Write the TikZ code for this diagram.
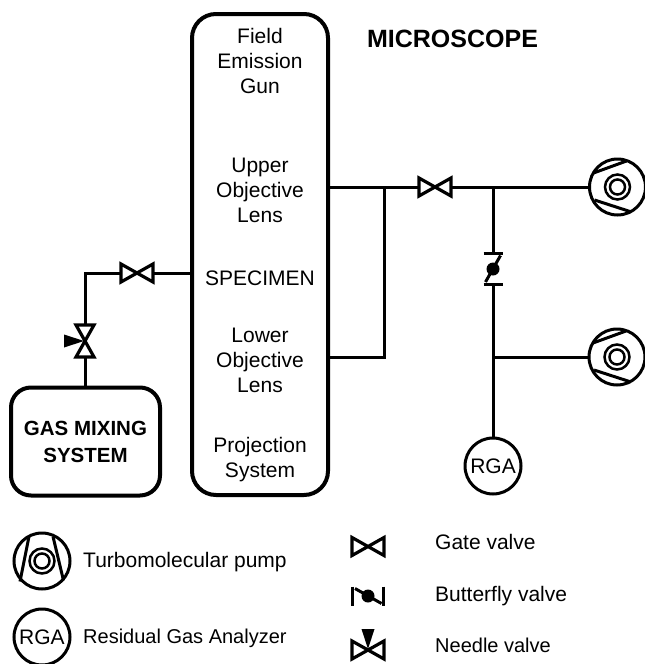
\documentclass[tikz,border=0pt]{standalone}
\usepackage{fontspec}
\setmainfont{Liberation Sans}
\usetikzlibrary{positioning}

\tikzset{
  vessel/.style={draw,line width=4,rounded corners=24,inner sep=0},
  pipe/.style={line width=3},
  label/.style={align=center,font=\fontsize{21}{25}\selectfont},
  legend/.style={anchor=west,inner sep=0,font=\fontsize{21}{25}\selectfont},
  roundbody/.style={draw,circle,line width=3,minimum size=56,inner sep=0,font=\fontsize{21}{25}\selectfont},
  gatevalve/.pic={
    \draw[line width=3.2,line join=miter] (-16,-9) -- (16,9) -- (16,-9) -- (-16,9) -- cycle;
    \coordinate (-in) at (-16,0);
    \coordinate (-out) at (16,0);
  },
  needlevalve/.pic={
    \draw[line width=3.2,line join=miter] (-16,-9) -- (16,9) -- (16,-9) -- (-16,9) -- cycle;
    \fill (-6.5,-21) -- (6.5,-21) -- (0,-1) -- cycle;
    \coordinate (-in) at (-16,0);
    \coordinate (-out) at (16,0);
  },
  butterflyvalve/.pic={
    \draw[line width=3] (-15.5,-9.5) -- (-15.5,9.5);
    \draw[line width=3] (15.5,-9.5) -- (15.5,9.5);
    \draw[line width=3] (-13,-7.5) -- (13.5,7.5);
    \fill (0,0) circle (6.5);
    \coordinate (-in) at (-15.5,0);
    \coordinate (-out) at (15.5,0);
  },
  turbopump/.pic={
    \node[roundbody] (-body) at (0,0) {};
    \draw[line width=3] (-13,-24.5) -- (-22,20.5);
    \draw[line width=3] (11,-24.5) -- (21.5,19.5);
    \draw[line width=2.5] (0,0) circle (12.5);
    \draw[line width=2.5] (0,0) circle (7.5);
  },
  sidepump/.pic={
    \node[roundbody] (-body) at (0,0) {};
    \draw[line width=3] (-24,-14) -- (9,-26);
    \draw[line width=3] (-23,13) -- (14,25);
    \draw[line width=2.5] (0,0) circle (12.5);
    \draw[line width=2.5] (0,0) circle (7.5);
  }
}

\begin{document}
\begin{tikzpicture}[x=1pt,y=-1pt]
\useasboundingbox (0,0) rectangle (645,664);

% microscope column
\node[vessel,minimum width=136,minimum height=481] (column) at (260,254.5) {};
\node[label] (gun) at (260,61) {Field\\Emission\\Gun};
\node[label] (upper) at (260,190.5) {Upper\\Objective\\Lens};
\node[label] (specimen) at (260,278) {SPECIMEN};
\node[label] (lower) at (260,360) {Lower\\Objective\\Lens};
\node[label] (projection) at (260,460) {Projection\\System};
\node[font=\fontsize{25}{30}\selectfont\bfseries] (title) at (452.5,39) {MICROSCOPE};

% gas mixing
\node[vessel,rounded corners=20,minimum width=149,minimum height=108,align=center,
  font=\fontsize{20.5}{27}\selectfont\bfseries] (gas) at (85.5,441.5) {GAS MIXING\\SYSTEM};
\pic (gategas) at (137,273) {gatevalve};
\pic[rotate=90] (needlegas) at (85,341) {needlevalve};
\coordinate (gascorner) at (85,273);
\draw[pipe] (gas.north -| needlegas-in) -- (needlegas-in);
\draw[pipe] (needlegas-out) -- (gascorner) -- (gategas-in);
\draw[pipe] (gategas-out) -- (gategas-out -| column.west);

% pumping line
\pic (gatemain) at (435,187) {gatevalve};
\pic (pumpone) at (617.5,187) {sidepump};
\pic (pumptwo) at (617,357) {sidepump};
\pic[rotate=90] (butterfly) at (493,269) {butterflyvalve};
\node[roundbody] (rga) at (493,466) {RGA};
\coordinate (branch) at (384,187);
\coordinate (tee) at (493,187);
\coordinate (teelow) at (493,357);
\draw[pipe] (gatemain-in) -- (gatemain-in -| column.east);
\draw[pipe] (gatemain-out) -- (pumpone-body.west);
\draw[pipe] (branch) -- (branch |- teelow) -- (column.east |- teelow);
\draw[pipe] (tee) -- (butterfly-out);
\draw[pipe] (butterfly-in) -- (rga.north);
\draw[pipe] (teelow) -- (pumptwo-body.west);

% legend
\pic (keypump) at (42,561) {turbopump};
\node[legend] (keypumptext) at (83,562.5) {Turbomolecular pump};
\node[roundbody] (keyrga) at (42,637) {RGA};
\node[legend,font=\fontsize{20}{25}\selectfont] (keyrgatext) at (83,638) {Residual Gas Analyzer};
\pic (keygate) at (368,546.5) {gatevalve};
\node[legend] (keygatetext) at (435,542) {Gate valve};
\pic (keybutterfly) at (368,596) {butterflyvalve};
\node[legend] (keybutterflytext) at (435,596) {Butterfly valve};
\pic (keyneedle) at (368,650) {needlevalve};
\node[legend,font=\fontsize{20}{25}\selectfont] (keyneedletext) at (435,645) {Needle valve};
\end{tikzpicture}
\end{document}
